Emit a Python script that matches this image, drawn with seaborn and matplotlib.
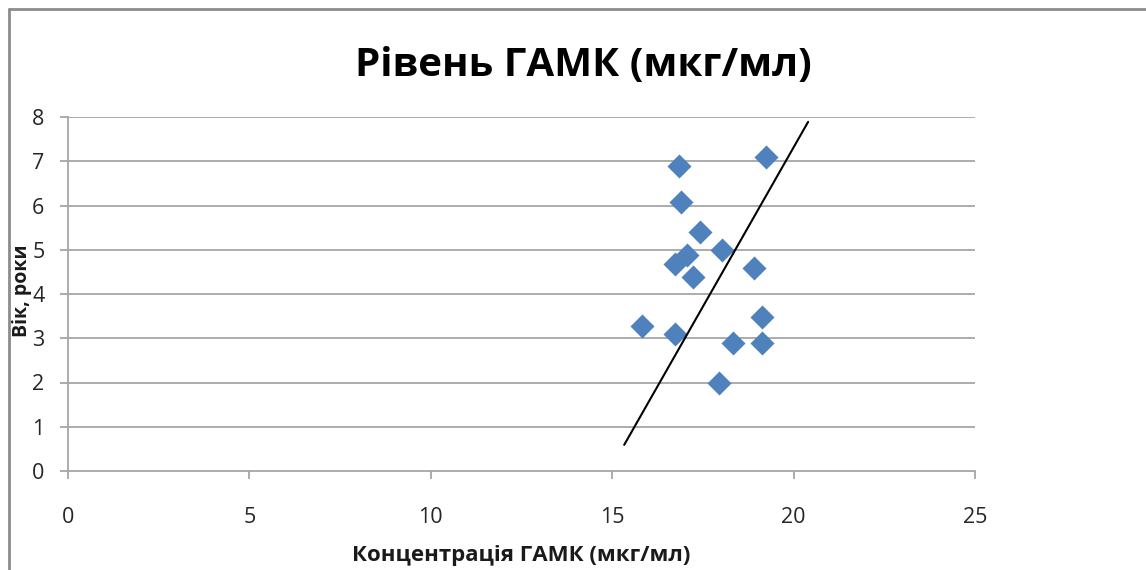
import matplotlib
matplotlib.use("Agg")
import matplotlib.pyplot as plt
import seaborn as sns
import pandas as pd
from matplotlib.lines import Line2D

# Data
gaba_conc = [16.84, 19.23, 16.91, 17.42, 18.03, 17.05, 16.72, 17.23, 18.92,
             15.83, 16.73, 19.14, 18.34, 19.14, 17.94]
age_years = [6.89, 7.10, 6.09, 5.39, 4.99, 4.88, 4.68, 4.39, 4.59,
             3.28, 3.10, 3.49, 2.90, 2.90, 1.98]
line_x = [15.33, 20.40]
line_y = [0.59, 7.89]
x_ticks = [0, 5, 10, 15, 20, 25]
y_ticks = [0, 1, 2, 3, 4, 5, 6, 7, 8]

title = "Рівень ГАМК (мкг/мл)"
x_label = "Концентрація ГАМК (мкг/мл)"
y_label = "Вік, роки"

sns.set_theme(style="white")
plt.rcParams['font.family'] = ['Open Sans', 'DejaVu Sans']

df = pd.DataFrame({"x": gaba_conc, "y": age_years})

W, H = 1146, 570
fig = plt.figure(figsize=(W / 100, H / 100), dpi=100)
fig.patch.set_facecolor("white")
ax = fig.add_axes([68 / W, 1 - 471 / H, (975 - 68) / W, (471 - 117) / H])

ax.grid(False)
for yv in y_ticks[1:]:
    ax.axhline(yv, color="#a6a6a6", lw=1.3, zorder=0)

sns.scatterplot(data=df, x="x", y="y", ax=ax, marker="D", s=150,
                color="#4F81BD", edgecolor="#4F81BD", linewidth=0, zorder=3)
ax.plot(line_x, line_y, color="black", lw=1.5, zorder=4)

ax.set_xlim(0, 25)
ax.set_ylim(0, 8)
ax.set_xticks(x_ticks)
ax.set_yticks(y_ticks)
ax.set_xticklabels([str(v) for v in x_ticks])
ax.set_yticklabels([str(v) for v in y_ticks])

for side in ["top", "right"]:
    ax.spines[side].set_visible(False)
for side in ["left", "bottom"]:
    ax.spines[side].set_color("#a6a6a6")
    ax.spines[side].set_linewidth(1.3)

ax.tick_params(axis="x", direction="out", length=6, width=1.3, color="#a6a6a6",
               pad=20, labelsize=15.5, labelcolor="#262626", bottom=True)
ax.tick_params(axis="y", direction="out", length=6, width=1.3, color="#a6a6a6",
               pad=11, labelsize=15.5, labelcolor="#262626", left=True)

ax.set_xlabel(x_label, fontsize=16, fontweight="bold", color="#1a1a1a")
ax.xaxis.set_label_coords(0.5, (471 - 555) / 354)
ax.xaxis.label.set_va("center")
ax.set_ylabel(y_label, fontsize=14, fontweight="bold", color="#1a1a1a")
ax.yaxis.set_label_coords((22 - 68) / 907, 0.51)
ax.yaxis.label.set_va("center")

fig.text(583 / W, 1 - 65 / H, title, fontsize=29, fontweight="bold",
         ha="center", va="center", color="black")

# outer frame (top and left edges visible)
fig.add_artist(Line2D([9 / W, 1.0], [1 - 9 / H, 1 - 9 / H], transform=fig.transFigure,
                      color="#8c8c8c", lw=2))
fig.add_artist(Line2D([9 / W, 9 / W], [0, 1 - 9 / H], transform=fig.transFigure,
                      color="#8c8c8c", lw=2))

fig.savefig("out.png", dpi=100)
